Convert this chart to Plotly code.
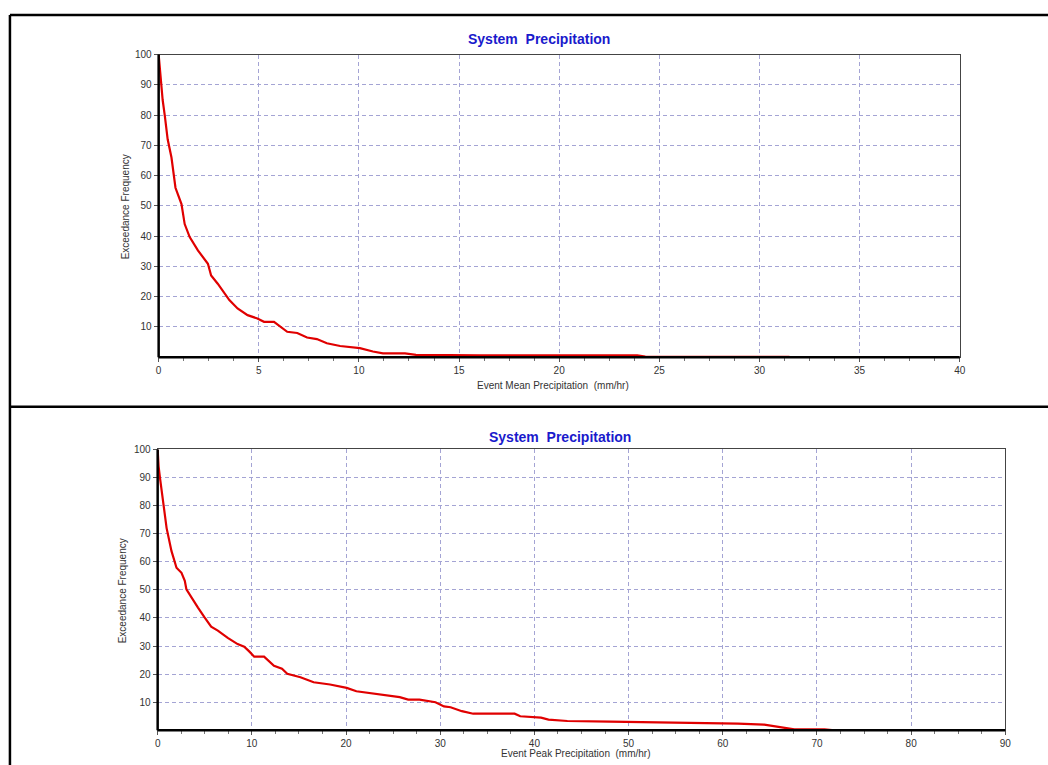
import plotly.graph_objects as go

W, H = 1048, 765

# ---- Data ----
mean_x = [0, 0.1, 0.2, 0.31, 0.45, 0.64, 0.84, 1.14, 1.3, 1.55, 1.96, 2.46, 2.62, 2.95, 3.53, 3.94,
          4.44, 4.93, 5.26, 5.76, 6.09, 6.42, 6.92, 7.41, 7.9, 8.4, 9.06, 10.05, 10.7, 11.2,
          12.3, 12.85, 14.5, 16.0, 23.9, 24.3, 31.5]
mean_y = [100, 91, 85, 79.7, 72, 66, 56, 50.6, 44, 39.7, 35.3, 30.9, 27, 24.3, 18.9, 16.1,
          13.9, 12.8, 11.7, 11.7, 10.1, 8.4, 8.0, 6.5, 6.0, 4.6, 3.7, 3.0, 1.9, 1.3,
          1.3, 0.8, 0.7, 0.6, 0.6, 0.2, 0.1]

peak_x = [0, 0.1, 0.25, 0.6, 0.95, 1.47, 2.0, 2.53, 2.88, 3.05, 3.58, 4.28, 4.98, 5.68, 6.39, 7.44,
          8.49, 9.19, 9.72, 10.25, 11.3, 12.35, 13.2, 13.76, 15.16, 16.56, 18.3, 20.07, 21.1,
          22.9, 24.6, 25.7, 26.6, 27.8, 29.5, 30.4, 31.1, 32.3, 33.5, 37.9, 38.5, 40.7, 41.5,
          43.5, 48.0, 54.4, 60.0, 61.6, 64.4, 66.0, 67.6, 70.8, 71.6, 78.3]
peak_y = [100, 94, 89.8, 81.6, 72, 63.8, 57.9, 56.1, 53.2, 50.2, 47.3, 43.7, 40.2, 36.9, 35.5, 32.9,
          30.7, 29.8, 28.1, 26.2, 26.2, 23.0, 21.9, 20.1, 18.9, 17.1, 16.3, 15.1, 13.9,
          13.0, 12.4, 11.8, 10.9, 10.9, 10.0, 8.5, 8.2, 6.8, 5.9, 5.9, 5.0, 4.5, 3.8,
          3.3, 3.1, 2.8, 2.6, 2.4, 2.0, 1.2, 0.35, 0.35, 0.1, 0.05]

y_ticks = [10, 20, 30, 40, 50, 60, 70, 80, 90, 100]
mean_x_ticks = [0, 5, 10, 15, 20, 25, 30, 35, 40]
peak_x_ticks = [0, 10, 20, 30, 40, 50, 60, 70, 80, 90]

title_text = "System\u00a0\u00a0Precipitation"
y_title = "Exceedance Frequency"
mean_x_title = "Event Mean Precipitation\u00a0\u00a0(mm/hr)"
peak_x_title = "Event Peak Precipitation\u00a0\u00a0(mm/hr)"

FONT = "Liberation Sans, Arial, sans-serif"
GRID = "#a4a4d4"
LINE_RED = "#e00000"


def px_x(p):
    return p / W


def px_y(p):
    return 1 - p / H


fig = go.Figure()
fig.add_trace(go.Scatter(x=mean_x, y=mean_y, mode="lines",
                         line=dict(color=LINE_RED, width=2.2), xaxis="x", yaxis="y",
                         showlegend=False))
fig.add_trace(go.Scatter(x=peak_x, y=peak_y, mode="lines",
                         line=dict(color=LINE_RED, width=2.2), xaxis="x2", yaxis="y2",
                         showlegend=False))

common_axis = dict(showline=True, linecolor="#444444", linewidth=1, mirror=True,
                   showgrid=True, gridcolor=GRID, gridwidth=1, griddash="4px,3px",
                   zeroline=False, ticks="outside", ticklen=4, tickwidth=1, tickcolor="#555555",
                   tickfont=dict(family=FONT, size=10, color="#333333"))

fig.update_layout(
    width=W, height=H,
    margin=dict(l=0, r=0, t=0, b=0),
    paper_bgcolor="white", plot_bgcolor="white",
    xaxis=dict(domain=[px_x(157), px_x(965)], range=[0, 40], tickvals=mean_x_ticks,
               anchor="y", minor=dict(dtick=1.25, ticks="outside", ticklen=3,
                                      tickcolor="#777777", showgrid=False),
               **common_axis),
    yaxis=dict(domain=[px_y(354), px_y(49)], range=[0, 100], tickvals=y_ticks,
               anchor="x", **common_axis),
    xaxis2=dict(domain=[px_x(156), px_x(1011)], range=[0, 90], tickvals=peak_x_ticks,
                anchor="y2", minor=dict(dtick=2.5, ticks="outside", ticklen=3,
                                        tickcolor="#777777", showgrid=False),
                **common_axis),
    yaxis2=dict(domain=[px_y(730), px_y(447)], range=[0, 100], tickvals=y_ticks,
                anchor="x2", **common_axis),
)

# thicker left/bottom axis lines
for dom, ydom in (("x domain", "y domain"), ("x2 domain", "y2 domain")):
    fig.add_shape(type="line", xref=dom, yref=ydom, x0=0, x1=0, y0=0, y1=1,
                  line=dict(color="black", width=2.5))
    fig.add_shape(type="line", xref=dom, yref=ydom, x0=0, x1=1, y0=0, y1=0,
                  line=dict(color="black", width=2.5))

# outer frame lines
fig.add_shape(type="line", xref="paper", yref="paper", x0=px_x(7), x1=1.01,
              y0=px_y(9), y1=px_y(9), line=dict(color="black", width=2.5))
fig.add_shape(type="line", xref="paper", yref="paper", x0=px_x(7), x1=px_x(7),
              y0=px_y(9), y1=-0.01, line=dict(color="black", width=2.5))
fig.add_shape(type="line", xref="paper", yref="paper", x0=px_x(7), x1=1.01,
              y0=px_y(404), y1=px_y(404), line=dict(color="black", width=2.5))

ann_title_font = dict(family=FONT, size=14, color="#1a1acc")
ann_font = dict(family=FONT, size=10, color="#333333")

annotations = [
    dict(text="<b>" + title_text + "</b>", x=px_x(541), y=px_y(33), font=ann_title_font),
    dict(text="<b>" + title_text + "</b>", x=px_x(562), y=px_y(434), font=ann_title_font),
    dict(text=y_title, x=px_x(123), y=px_y(202), textangle=-90, font=ann_font),
    dict(text=y_title, x=px_x(120), y=px_y(589), textangle=-90, font=ann_font),
    dict(text=mean_x_title, x=px_x(555), y=px_y(383), font=ann_font),
    dict(text=peak_x_title, x=px_x(578), y=px_y(753), font=ann_font),
]
for a in annotations:
    a.update(xref="paper", yref="paper", showarrow=False, xanchor="center", yanchor="middle")
fig.update_layout(annotations=annotations)

fig.write_html("out.html")
